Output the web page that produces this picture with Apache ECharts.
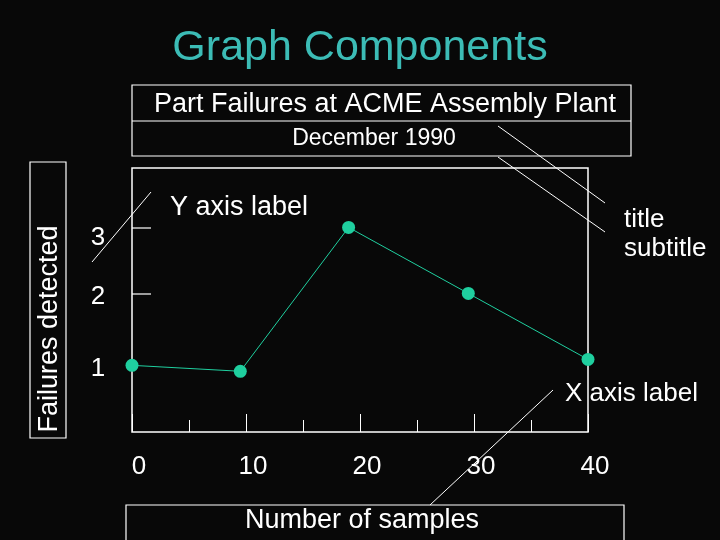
<!DOCTYPE html>
<html><head><meta charset="utf-8">
<script src="https://cdn.jsdelivr.net/npm/echarts@6/dist/echarts.min.js"></script>
<style>html,body{margin:0;padding:0;background:#080808}#c{width:720px;height:540px}</style>
</head><body><div id="c"></div>
<script>
const samples = [0, 9.5, 19, 29.5, 40];
const failures = [0.91, 0.82, 3.0, 2.0, 1.0];
const titleText = 'Graph Components';
const chartTitle = 'Part Failures at ACME Assembly Plant';
const chartSubtitle = 'December 1990';
const xName = 'Number of samples';
const yName = 'Failures detected';
const F = 'Liberation Sans, Arial, sans-serif';
const W = '#ffffff', TEAL = '#1fcf9f';
const chart = echarts.init(document.getElementById('c'));
chart.setOption({
  backgroundColor: '#080808',
  animation: false,
  title: {text: titleText, left: 'center', top: 22,
    textStyle: {color: '#3cbcb6', fontSize: 43, fontWeight: 'normal', fontFamily: F}},
  grid: {left: 132, right: 132, top: 168, bottom: 108, show: true, borderColor: W, borderWidth: 1.5, backgroundColor: 'transparent'},
  xAxis: {type: 'value', min: 0, max: 40, interval: 10,
    axisLine: {show: false, onZero: false}, splitLine: {show: false},
    axisTick: {show: true, inside: true, length: 18, lineStyle: {color: W}},
    minorTick: {show: true, splitNumber: 2, length: 12, lineStyle: {color: W}},
    axisLabel: {color: W, fontSize: 26, fontFamily: F, margin: 22, padding: [0, 0, 0, 14]}},
  yAxis: {type: 'value', min: -0.1, max: 3.9,
    axisLine: {show: false}, splitLine: {show: false},
    axisTick: {show: false},
    axisLabel: {show: false}},
  graphic: [
    {type: 'rect', shape: {x: 132, y: 85, width: 499, height: 71}, style: {fill: 'none', stroke: W, lineWidth: 1.2}},
    {type: 'line', shape: {x1: 132, y1: 121, x2: 631, y2: 121}, style: {stroke: W, lineWidth: 1.2}},
    {type: 'text', x: 385, y: 105, style: {text: chartTitle, fill: W, font: '27px ' + F, align: 'center', verticalAlign: 'middle'}},
    {type: 'text', x: 374, y: 139, style: {text: chartSubtitle, fill: W, font: '23px ' + F, align: 'center', verticalAlign: 'middle'}},
    {type: 'rect', shape: {x: 30, y: 162, width: 36, height: 276}, style: {fill: 'none', stroke: W, lineWidth: 1.2}},
    {type: 'text', x: 50, y: 329, rotation: Math.PI / 2, style: {text: yName, fill: W, font: '27px ' + F, align: 'center', verticalAlign: 'middle'}},
    {type: 'rect', shape: {x: 126, y: 505, width: 498, height: 40}, style: {fill: 'none', stroke: W, lineWidth: 1.2}},
    {type: 'text', x: 362, y: 521, style: {text: xName, fill: W, font: '27px ' + F, align: 'center', verticalAlign: 'middle'}},
    {type: 'text', x: 98, y: 238, style: {text: '3', fill: W, font: '26px ' + F, align: 'center', verticalAlign: 'middle'}},
    {type: 'text', x: 98, y: 297, style: {text: '2', fill: W, font: '26px ' + F, align: 'center', verticalAlign: 'middle'}},
    {type: 'text', x: 98, y: 369, style: {text: '1', fill: W, font: '26px ' + F, align: 'center', verticalAlign: 'middle'}},
    {type: 'line', shape: {x1: 132, y1: 228, x2: 151, y2: 228}, style: {stroke: W, lineWidth: 1.2}},
    {type: 'line', shape: {x1: 132, y1: 294, x2: 151, y2: 294}, style: {stroke: W, lineWidth: 1.2}},
    {type: 'text', x: 170, y: 208, style: {text: 'Y axis label', fill: W, font: '27px ' + F, verticalAlign: 'middle'}},
    {type: 'line', shape: {x1: 151, y1: 192, x2: 92, y2: 262}, style: {stroke: W, lineWidth: 1}},
    {type: 'text', x: 624, y: 220, style: {text: 'title', fill: W, font: '26px ' + F, verticalAlign: 'middle'}},
    {type: 'text', x: 624, y: 249, style: {text: 'subtitle', fill: W, font: '26px ' + F, verticalAlign: 'middle'}},
    {type: 'line', shape: {x1: 498, y1: 126, x2: 605, y2: 203}, style: {stroke: W, lineWidth: 1}},
    {type: 'line', shape: {x1: 498, y1: 157, x2: 605, y2: 232}, style: {stroke: W, lineWidth: 1}},
    {type: 'text', x: 565, y: 394, style: {text: 'X axis label', fill: W, font: '26px ' + F, verticalAlign: 'middle'}},
    {type: 'line', shape: {x1: 553, y1: 390, x2: 430, y2: 505}, style: {stroke: W, lineWidth: 1}}
  ],
  series: [{type: 'line', data: samples.map((x, i) => [x, failures[i]]),
    symbol: 'circle', symbolSize: 13, lineStyle: {color: TEAL, width: 1}, itemStyle: {color: TEAL}}]
});
</script></body></html>
